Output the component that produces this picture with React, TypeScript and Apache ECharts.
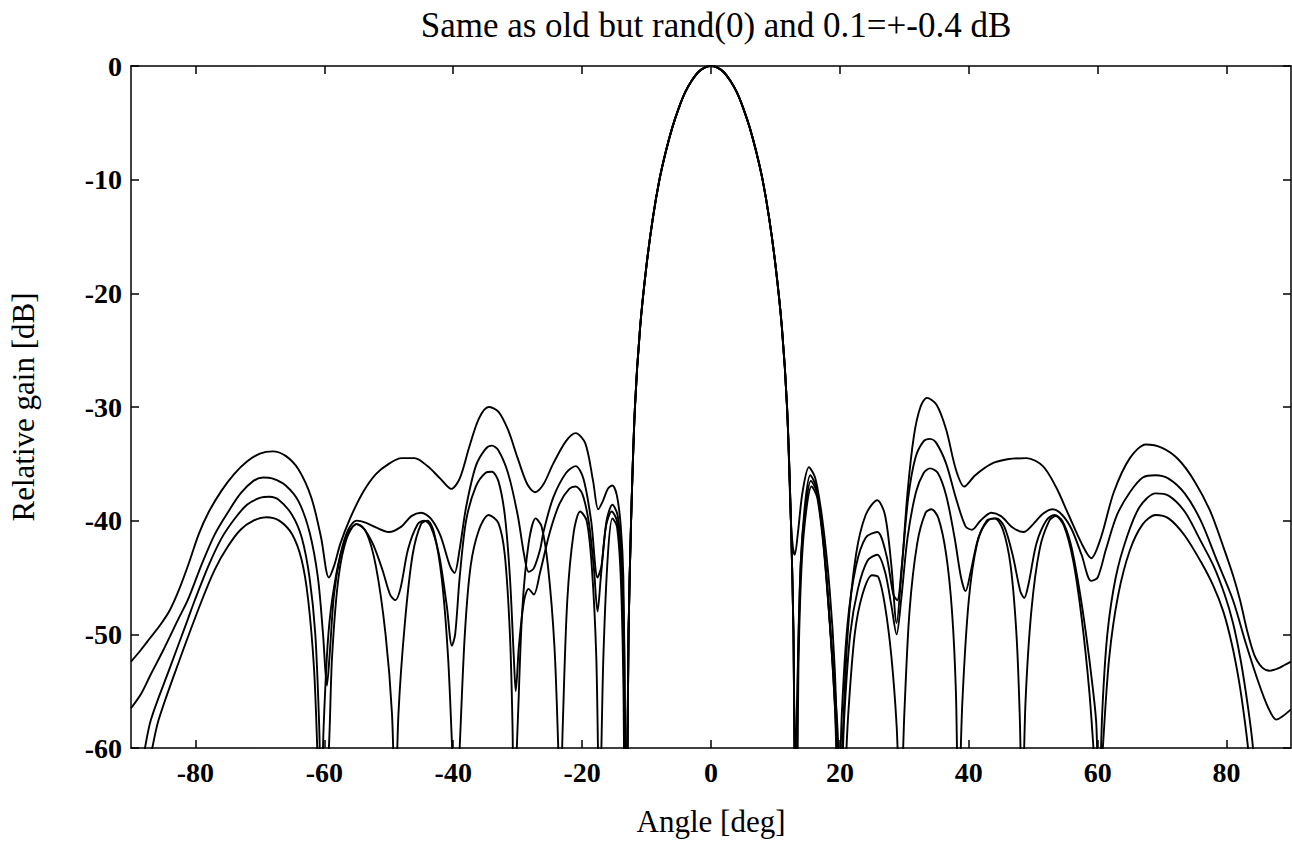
import React, { useEffect, useRef } from "react";
import * as echarts from "echarts";

const titleText = "Same as old but rand(0) and 0.1=+-0.4 dB";
const xName = "Angle [deg]";
const yName = "Relative gain [dB]";
const xTicks = [-80, -60, -40, -20, 0, 20, 40, 60, 80];

const mainLobe: number[][] = [[-13.0,-62],[-12.8,-50],[-12.4,-40],[-11.8,-30],[-11,-23],[-10,-17.5],[-9,-13.3],[-8,-10],[-7,-7.5],[-6,-5.4],[-5,-3.7],[-4,-2.3],[-3,-1.3],[-2,-0.55],[-1,-0.14],[0,0],[1,-0.14],[2,-0.55],[3,-1.3],[4,-2.3],[5,-3.7],[6,-5.4],[7,-7.5],[8,-10],[9,-13.3],[10,-17.5],[11,-23],[11.8,-30],[12.4,-40]];
const mainLobeTail: number[][] = [[12.8,-50],[13.0,-62]];

const aLeft: number[][] = [[-90,-52.4],[-88.5,-51.4],[-87,-50.3],[-85.5,-49.2],[-84,-47.9],[-82.5,-46],[-81,-43.7],[-79.5,-41.2],[-78,-39.3],[-76,-37.4],[-74,-35.9],[-72,-34.8],[-70,-34.1],[-68,-33.9],[-66,-34.3],[-64,-35.5],[-62,-38],[-60.5,-41.5],[-59.3,-45],[-58.5,-44],[-57.5,-42],[-56,-39.8],[-54,-37.5],[-52,-35.9],[-50,-35],[-48,-34.5],[-46,-34.5],[-44,-35.2],[-42,-36.3],[-40.3,-37.2],[-39,-36.3],[-37.5,-33.5],[-36,-31],[-34.5,-30],[-33,-30.4],[-31.5,-32],[-30,-34.5],[-28.5,-36.8],[-27.3,-37.5],[-26,-36.8],[-24.5,-35],[-22.5,-33],[-21,-32.3],[-19.5,-33.2],[-18.3,-36.5],[-17.5,-39],[-16.8,-38.3],[-16,-37.2],[-15.3,-36.9],[-14.6,-37.8],[-14,-40.5],[-13.6,-45],[-13.3,-60],[-13.2,-70]];
const aRight: number[][] = [[12.7,-42.3],[13.0,-43],[13.5,-41],[14.2,-37.5],[15.2,-35.3],[16.2,-36.3],[17.3,-40],[18.4,-46],[19.2,-53],[19.7,-62],[20,-70],[20.4,-60],[21.2,-50],[22.5,-43],[24,-39.5],[25.8,-38.2],[27,-39.5],[28,-44],[28.8,-49],[29.5,-45],[30.5,-37.5],[31.5,-32.5],[32.5,-30],[33.5,-29.2],[35,-29.8],[36.5,-32],[38,-35.5],[39.3,-37],[41,-36],[43.5,-35],[46,-34.6],[49,-34.5],[51.5,-35.2],[53.5,-37],[55.5,-39.5],[57.5,-42],[59,-43.3],[60.5,-41.5],[62.5,-37.5],[65,-34.5],[67.5,-33.3],[70,-33.6],[72.5,-34.6],[75,-36.5],[77.5,-39.2],[79.5,-42.3],[81,-44.8],[82.1,-47],[83.2,-49.7],[84.3,-51.8],[85.5,-52.9],[86.7,-53.2],[88,-53],[89,-52.7],[90,-52.4]];

const bLeft: number[][] = [[-90,-56.5],[-88.5,-55.3],[-87,-53.6],[-85,-51.4],[-82.7,-48.7],[-81.2,-47],[-79,-43.8],[-77,-41.2],[-75,-39.3],[-73,-37.6],[-71,-36.5],[-69.5,-36.2],[-68,-36.3],[-66,-36.9],[-64,-38.3],[-62.3,-41],[-61,-45],[-60.2,-50],[-59.6,-54.5],[-59.2,-52],[-58.5,-46.5],[-57.5,-43],[-56.3,-40.8],[-55,-40],[-53.5,-40.2],[-52,-40.6],[-50,-41],[-48,-40.5],[-46.5,-39.6],[-45,-39.3],[-43.5,-39.8],[-42,-41.3],[-40.5,-44],[-39.8,-44.6],[-39,-42.5],[-38,-38.8],[-36.5,-35.2],[-35,-33.7],[-34,-33.4],[-33,-33.8],[-31.5,-35.8],[-30,-39.5],[-29,-43],[-28.3,-44.5],[-27.5,-44.2],[-26.5,-42.5],[-26,-41],[-24.5,-38],[-22.5,-35.8],[-21,-35.2],[-19.8,-36.3],[-18.6,-40],[-17.6,-45],[-17,-44],[-16.2,-40],[-15.3,-38.6],[-14.5,-39.5],[-13.9,-43],[-13.5,-50],[-13.25,-65]];
const bRight: number[][] = [[13.1,-62],[13.4,-55],[13.9,-44],[14.6,-38.5],[15.4,-36],[16.3,-37],[17.3,-41],[18.3,-48],[19.2,-56],[19.8,-66],[20.3,-57],[21.2,-49],[22.5,-44],[24,-41.5],[25.8,-41],[27.2,-43],[28.3,-46.5],[28.9,-47],[29.6,-44],[30.6,-38],[31.7,-34.5],[33,-33],[34,-32.8],[35,-33.2],[36.5,-35],[38,-38],[39.5,-40.5],[40.5,-40.8],[41.8,-40],[43.5,-39.3],[45,-39.6],[46.8,-40.6],[48.5,-41],[50,-40.3],[51.5,-39.4],[53,-39],[54.5,-39.5],[56,-40.8],[57.5,-43],[59,-45.3],[60,-45],[61.3,-42.5],[63,-39.5],[65,-37.5],[67,-36.2],[69,-36],[71,-36.3],[73.5,-37.6],[76,-40],[78.5,-43.5],[81,-47],[83,-50.8],[85,-54.3],[86.5,-56.5],[87.7,-57.5],[88.7,-57.2],[90,-56.6]];

const cLeft: number[][] = [[-88.5,-62],[-88,-60.5],[-86.9,-57.5],[-84,-53],[-81.2,-48.7],[-80.1,-47],[-78,-44],[-76,-41.6],[-74,-39.9],[-72,-38.6],[-70,-38],[-68.5,-37.9],[-67,-38.2],[-65,-39.5],[-63.5,-41.5],[-62.3,-45],[-61.4,-50],[-60.8,-58],[-60.5,-65],[-60.1,-58],[-59.5,-51],[-58.8,-47],[-57.5,-43],[-56,-40.8],[-55,-40.3],[-54,-40.6],[-52.5,-42],[-51,-44.3],[-49.8,-46.5],[-49,-47],[-48.2,-46],[-47,-42.5],[-45.5,-40.3],[-44.5,-40],[-43.5,-40.5],[-42.2,-43],[-41,-47.5],[-40.2,-51],[-39.7,-50],[-39,-45],[-38,-40],[-36.5,-37],[-35,-35.8],[-34,-35.7],[-33,-36.5],[-32,-39.5],[-31.2,-45],[-30.6,-52],[-30.3,-55],[-29.8,-51],[-29,-47],[-28.3,-46],[-27.5,-46.5],[-26.5,-44.5],[-25,-41],[-23.5,-38.5],[-22,-37.2],[-21,-37],[-20,-37.6],[-19,-40],[-18.2,-44],[-17.6,-48],[-17.1,-45],[-16.3,-40.5],[-15.4,-39.2],[-14.6,-40],[-14,-43],[-13.6,-50],[-13.3,-65]];
const cRight: number[][] = [[13.2,-66],[13.5,-52],[14,-43],[14.7,-38.7],[15.5,-36.5],[16.4,-37.5],[17.4,-41.5],[18.4,-48.5],[19.3,-57],[20,-66],[20.7,-57],[21.6,-50],[22.8,-46],[24.3,-43.5],[25.8,-43],[27,-44.5],[28,-47.5],[28.8,-50],[29.5,-47],[30.5,-41.5],[31.8,-37.5],[33,-35.8],[34,-35.4],[35.2,-35.8],[36.5,-37.8],[37.8,-41.5],[38.8,-45],[39.5,-46.2],[40.3,-44.5],[41.5,-41.5],[43,-40],[44.3,-39.8],[45.5,-40.5],[46.8,-43],[48,-46.2],[48.6,-46.8],[49.3,-45.5],[50.5,-42],[52,-40],[53.3,-39.5],[54.5,-40],[55.8,-42],[57,-45.5],[58.2,-50],[59.3,-55],[59.8,-58],[60.2,-66],[60.7,-57],[61.5,-50],[62.8,-45],[64.5,-41.5],[66.5,-38.8],[69,-37.6],[71,-37.8],[73.5,-39.2],[76,-41.8],[78,-44],[79.7,-46.5],[81,-49],[82.2,-52.3],[83.3,-56.3],[84.1,-60],[84.6,-65]];

const dLeft: number[][] = [[-87.3,-62],[-86.8,-60.3],[-85.7,-57.5],[-82.5,-52.3],[-79,-47],[-77,-44.3],[-75,-42.3],[-73,-40.8],[-71,-40],[-69,-39.7],[-67,-40],[-65,-41.2],[-63.5,-43.5],[-62.5,-47],[-61.6,-53],[-61.1,-60],[-60.8,-66],[-59.5,-62],[-58.8,-52],[-57.8,-45],[-56.5,-41.5],[-55,-40.3],[-53.5,-41],[-52,-44],[-50.5,-50],[-49.5,-57],[-49,-66],[-48.5,-57],[-47.5,-49],[-46.3,-43],[-45,-40.3],[-44,-40],[-43,-41],[-41.8,-45],[-40.8,-52],[-40,-62],[-39.5,-66],[-39,-60],[-38.2,-50],[-37.3,-44],[-36,-40.8],[-34.5,-39.5],[-33,-40.2],[-32,-43],[-31.2,-50],[-30.8,-58],[-30.6,-66],[-30,-58],[-29.3,-48],[-28.3,-42],[-27.2,-39.8],[-26.3,-40.5],[-25.3,-44],[-24.3,-51],[-23.7,-60],[-23.4,-66],[-23,-58],[-22.3,-47],[-21.3,-41],[-20.3,-39.2],[-19.3,-40],[-18.5,-44],[-17.8,-52],[-17.3,-66],[-16.7,-52],[-16,-43],[-15.3,-39.8],[-14.6,-40.5],[-14,-45],[-13.6,-54],[-13.35,-66]];
const dRight: number[][] = [[13.3,-66],[13.6,-52],[14.1,-43.5],[14.8,-39],[15.6,-37],[16.5,-38],[17.5,-42.5],[18.5,-49.5],[19.5,-57],[20.4,-66],[21.3,-57],[22.3,-50],[23.5,-46.5],[25,-44.8],[26,-45],[27,-47.5],[28,-52],[28.8,-58],[29.4,-66],[30,-57],[30.8,-48],[32,-42],[33.3,-39.3],[34.2,-39],[35.3,-39.8],[36.5,-43],[37.4,-48],[38,-55],[38.4,-66],[39,-56],[40,-47],[41.3,-42],[42.8,-40],[44,-39.8],[45.3,-40.8],[46.5,-44],[47.4,-50],[47.9,-57],[48.3,-66],[48.8,-56],[49.7,-48],[51,-42.5],[52.5,-40],[53.5,-39.6],[54.8,-40.5],[56.2,-43.5],[57.5,-48.5],[58.7,-55],[59.6,-62],[60.2,-66],[60.8,-60],[61.8,-52],[63.2,-46.5],[65,-42.6],[67,-40.3],[69,-39.5],[71,-39.8],[73.5,-41.3],[76,-43.6],[78,-45.8],[79.5,-48],[80.8,-50.8],[81.9,-54],[82.8,-57.5],[83.5,-61],[83.9,-66]];

const FONT = "'Liberation Serif', 'Times New Roman', serif";

export default function App() {
  const ref = useRef<HTMLDivElement>(null);
  useEffect(() => {
    if (!ref.current) return;
    const chart = echarts.init(ref.current, undefined, { renderer: "svg" });
    const curves = [
      [...aLeft, ...mainLobe, ...aRight],
      [...bLeft, ...mainLobe, ...mainLobeTail, ...bRight],
      [...cLeft, ...mainLobe, ...mainLobeTail, ...cRight],
      [...dLeft, ...mainLobe, ...mainLobeTail, ...dRight],
    ];
    const axisLine = { show: true, onZero: false, lineStyle: { color: "#000", width: 1.5 } };
    const tick = { show: true, inside: true, length: 8, lineStyle: { color: "#000", width: 1.5 } };
    const labelStyle = { fontFamily: FONT, fontSize: 28, fontWeight: "bold", color: "#000" };
    chart.setOption({
      animation: false,
      backgroundColor: "#fff",
      title: {
        text: titleText,
        left: 711,
        top: 3,
        textAlign: "center",
        textStyle: { fontFamily: FONT, fontSize: 35, fontWeight: "normal", color: "#000" },
      },
      grid: { left: 131, right: 1, top: 66, bottom: 104 },
      xAxis: [
        {
          type: "value", min: -90, max: 90, position: "bottom",
          axisLine, axisTick: { ...tick, customValues: xTicks },
          axisLabel: { ...labelStyle, margin: 10, customValues: xTicks },
          splitLine: { show: false },
          name: xName, nameLocation: "middle", nameGap: 58,
          nameTextStyle: { fontFamily: FONT, fontSize: 31, color: "#000" },
        },
        {
          type: "value", min: -90, max: 90, position: "top",
          axisLine, axisTick: { ...tick, customValues: xTicks },
          axisLabel: { show: false }, splitLine: { show: false },
        },
      ],
      yAxis: [
        {
          type: "value", min: -60, max: 0, interval: 10, position: "left",
          axisLine, axisTick: tick,
          axisLabel: { ...labelStyle, margin: 9 },
          splitLine: { show: false },
          name: yName, nameLocation: "middle", nameGap: 92,
          nameTextStyle: { fontFamily: FONT, fontSize: 31, color: "#000" },
        },
        {
          type: "value", min: -60, max: 0, interval: 10, position: "right",
          axisLine, axisTick: tick, axisLabel: { show: false }, splitLine: { show: false },
        },
      ],
      series: curves.map((data) => ({
        type: "line",
        data,
        symbol: "none",
        smooth: 0.3,
        clip: true,
        lineStyle: { color: "#000", width: 1.9 },
      })),
    });
    return () => chart.dispose();
  }, []);
  return <div ref={ref} style={{ position: "fixed", left: 0, top: 0, width: 1292, height: 852 }} />;
}
